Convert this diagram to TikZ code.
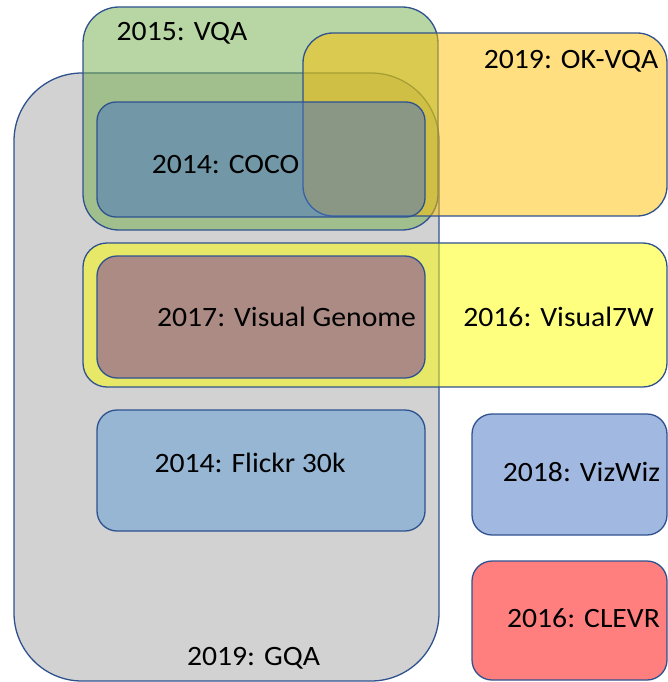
\documentclass[tikz,border=0pt]{standalone}
\usepackage{fontspec}
\setmainfont{Carlito}[FakeStretch=1.06]
\begin{document}
\begin{tikzpicture}[x=1pt,y=-1pt,
  box/.style={draw=edge, line width=1.3pt, fill opacity=0.5},
  lbl/.style={anchor=base, inner sep=0pt, text=black, font=\fontsize{28}{32}\selectfont}]
\definecolor{edge}{HTML}{2F528F}
\definecolor{cgray}{HTML}{A5A5A5}
\definecolor{cgreen}{HTML}{70AD47}
\definecolor{corange}{HTML}{FFC000}
\definecolor{cblue}{HTML}{4472C4}
\definecolor{cyellow}{HTML}{FFFF00}
\definecolor{cpurple}{HTML}{7030A0}
\definecolor{csky}{HTML}{5B9BD5}
\definecolor{cred}{HTML}{FF0000}
\useasboundingbox (0,0) rectangle (668,682);
% dataset regions, back to front
\path[box, fill=cgray, rounded corners=68pt] (14,73) rectangle (439,681);
\path[box, fill=cgreen, rounded corners=36pt] (83,7) rectangle (438,230);
\path[box, fill=corange, rounded corners=30pt] (303,33) rectangle (667,216);
\path[box, fill=cblue, rounded corners=19pt] (97,102) rectangle (425,217);
\path[box, fill=cyellow, rounded corners=24pt] (83,243) rectangle (667,387);
\path[box, fill=cpurple, rounded corners=20pt] (97,256) rectangle (425,378);
\path[box, fill=csky, rounded corners=20pt] (97,410) rectangle (425,531);
\path[box, fill=cblue, rounded corners=20pt] (472,414) rectangle (667,535);
\path[box, fill=cred, rounded corners=20pt] (472,561) rectangle (667,680);
% labels
\node[lbl] (vqa) at (182,40.7) {2015: VQA};
\node[lbl] (okvqa) at (571,68.3) {2019: OK-VQA};
\node[lbl] (coco) at (225.5,173.3) {2014: COCO};
\node[lbl] (vg) at (286.5,326.7) {2017: Visual Genome};
\node[lbl] (v7w) at (558.5,326.7) {2016: Visual7W};
\node[lbl] (flickr) at (250,472.7) {2014: Flickr 30k};
\node[lbl] (gqa) at (253.5,665.3) {2019: GQA};
\node[lbl] (vizwiz) at (581.5,481) {2018: VizWiz};
\node[lbl] (clevr) at (583.5,627.7) {2016: CLEVR};
\end{tikzpicture}
\end{document}
